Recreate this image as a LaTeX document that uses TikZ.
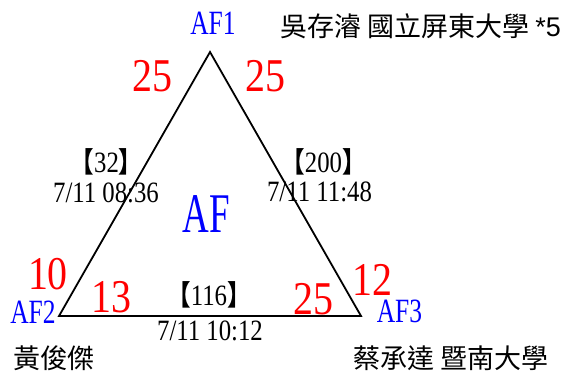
\documentclass[tikz,border=0pt]{standalone}
\usepackage{fontspec}
\setmainfont{Liberation Serif}
\newfontfamily\cjk{Noto Sans CJK TC}
\newfontfamily\arialfont{Liberation Sans}
\tikzset{
  vertexname/.style={text=blue, inner sep=0pt, anchor=base, xscale=0.75, font=\fontsize{34}{34}\selectfont},
  score/.style={text=red, inner sep=0pt, anchor=base, xscale=0.85, font=\fontsize{47}{47}\selectfont},
  record/.style={inner sep=0pt, anchor=base, xscale=0.84, font=\fontsize{29.5}{30}\selectfont},
  member/.style={inner sep=0pt, anchor=west, font=\cjk\fontsize{27}{27}\selectfont},
}
\newcommand{\bracketed}[1]{{\cjk\bfseries\fontsize{28}{28}\selectfont 【}#1{\cjk\bfseries\fontsize{28}{28}\selectfont 】}}
\begin{document}
\begin{tikzpicture}[x=1pt,y=-1pt]
    \useasboundingbox (0,0) rectangle (564,372);
    % Triangle corners
    \coordinate (top) at (210,52);
    \coordinate (left) at (59,316);
    \coordinate (right) at (361,316);
    \draw[line width=1.8pt] (top) -- (left) -- (right) -- cycle;
    % Corner names
    \node[vertexname] (af1) at (213,34) {AF1};
    \node[vertexname] (af2) at (33,323) {AF2};
    \node[vertexname] (af3) at (399.5,322) {AF3};
    \node[text=blue, inner sep=0pt, anchor=base, xscale=0.66, font=\fontsize{56}{56}\selectfont] (af) at (206,232) {AF};
    % Scores
    \node[score] (s1l) at (152.5,91) {25};
    \node[score] (s1r) at (265.5,91) {25};
    \node[score] (s2u) at (48,289) {10};
    \node[score] (s2r) at (111.5,312) {13};
    \node[score] (s3l) at (313,314) {25};
    \node[score] (s3u) at (372.5,295) {12};
    % Edge records
    \node[record] (n12) at (106.5,172) {\bracketed{32}};
    \node[record] (t12) at (106,202) {7/11 08:36};
    \node[record] (n13) at (323.5,172) {\bracketed{200}};
    \node[record] (t13) at (319.5,201) {7/11 11:48};
    \node[record] (n23) at (209,305) {\bracketed{116}};
    \node[record] (t23) at (210,340) {7/11 10:12};
    % Members
    \node[member] (m1) at (280,26.5) {吳存濬 國立屏東大學 {\arialfont *5}};
    \node[member] (m2) at (13,358.5) {黃俊傑};
    \node[member] (m3) at (353,358.5) {蔡承達 暨南大學};
\end{tikzpicture}
\end{document}
